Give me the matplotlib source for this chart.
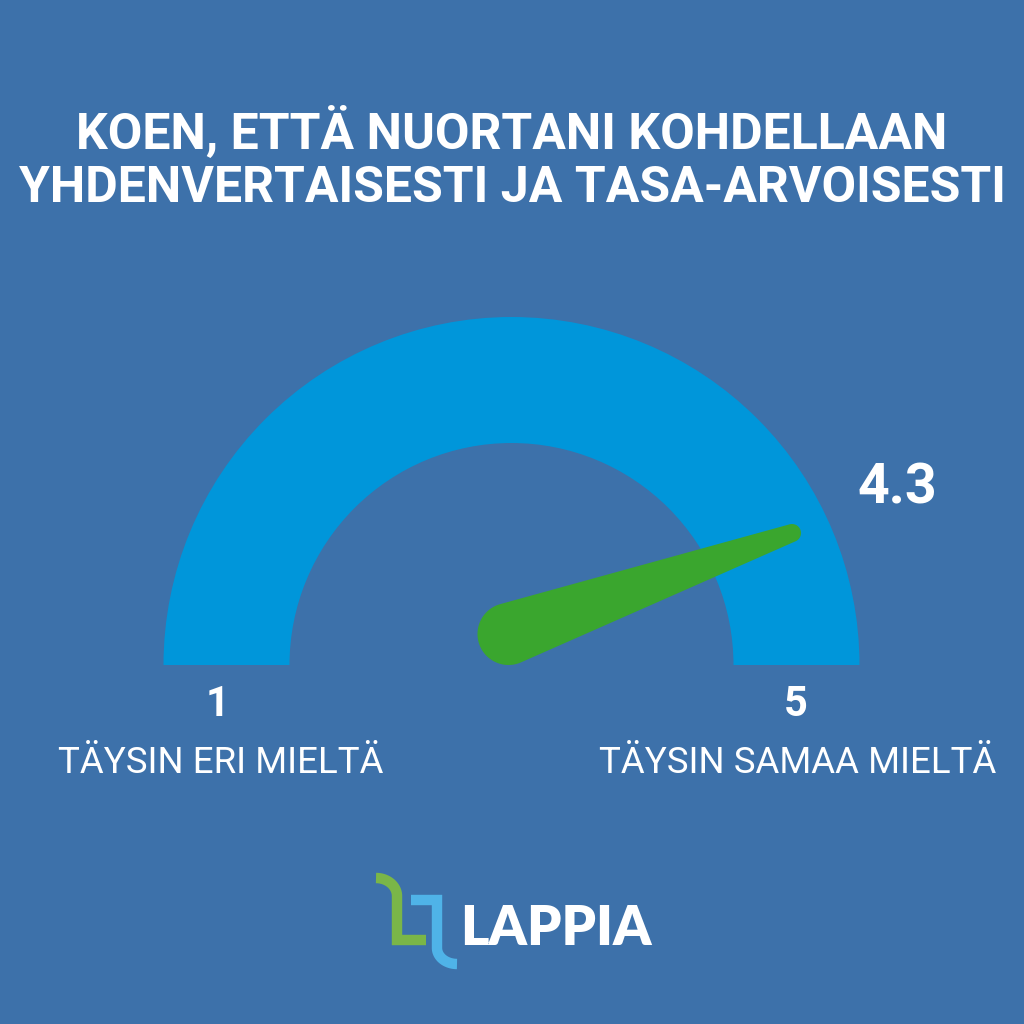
import numpy as np
import matplotlib.pyplot as plt
from matplotlib.patches import Wedge, Polygon

BG     = "#3D71AA"
ARC    = "#0096DA"
NEEDLE = "#3AA62E"

title_lines = ["KOEN, ETTÄ NUORTANI KOHDELLAAN", "YHDENVERTAISESTI JA TASA-ARVOISESTI"]
value       = 4.3
scale_min   = 1
scale_max   = 5
min_label   = "TÄYSIN ERI MIELTÄ"
max_label   = "TÄYSIN SAMAA MIELTÄ"
brand       = "LAPPIA"

plt.rcParams["font.family"] = ["Roboto", "DejaVu Sans"]

fig = plt.figure(figsize=(10.24, 10.24), dpi=100, facecolor=BG)
ax = fig.add_axes([0, 0, 1, 1])
ax.set_xlim(0, 1024)
ax.set_ylim(1024, 0)
ax.set_aspect("equal")
ax.axis("off")
ax.set_facecolor(BG)

# title
ax.text(512, 133, title_lines[0], ha="center", va="center", color="white",
        fontsize=36, fontweight="bold")
ax.text(512, 189, title_lines[1], ha="center", va="center", color="white",
        fontsize=36, fontweight="bold")

# gauge arc (y axis is flipped, so angles go clockwise -> use 180..360)
cx, cy = 511.5, 665
r_out, r_in = 348, 222
ax.add_patch(Wedge((cx, cy), r_out, 180, 360, width=r_out - r_in,
                   facecolor=ARC, edgecolor="none"))

# needle: hub circle + tip circle, joined by tangents
theta = np.pi * (1 - value / scale_max)
tip_len = 310
tip = np.array([cx + tip_len * np.cos(theta), cy - tip_len * np.sin(theta)])
hub = np.array([cx - 3, cy - 31])
r1, r2 = 31, 9
d = tip - hub
dist = np.hypot(*d)
a = np.arctan2(d[1], d[0])
phi = np.arccos((r1 - r2) / dist)
t_small = np.linspace(a - phi, a + phi, 40)
t_big = np.linspace(a + phi, a + 2 * np.pi - phi, 80)
pts = np.vstack([
    np.column_stack([tip[0] + r2 * np.cos(t_small), tip[1] + r2 * np.sin(t_small)]),
    np.column_stack([hub[0] + r1 * np.cos(t_big), hub[1] + r1 * np.sin(t_big)]),
])
ax.add_patch(Polygon(pts, closed=True, facecolor=NEEDLE, edgecolor="none"))

# value label
ax.text(897, 488, f"{value:.1f}", ha="center", va="center", color="white",
        fontsize=40, fontweight="bold")

# scale labels
ax.text(218, 705, str(scale_min), ha="center", va="center", color="white",
        fontsize=30, fontweight="bold")
ax.text(796, 705, str(scale_max), ha="center", va="center", color="white",
        fontsize=30, fontweight="bold")
ax.text(220.5, 763, min_label, ha="center", va="center", color="white", fontsize=26.4)
ax.text(797.5, 763, max_label, ha="center", va="center", color="white", fontsize=26.4)

# logo
t = np.linspace(0, 1, 30)
gx = np.concatenate([376 + 21 * np.sin(t * np.pi / 2), [397, 397, 426]])
gy = np.concatenate([878 + 18 * (1 - np.cos(t * np.pi / 2)), [896, 940, 940]])
ax.plot(gx, gy, color="#7AB648", lw=7.5, solid_capstyle="butt", solid_joinstyle="miter")
bx = np.concatenate([[411, 437, 437], 437 + 20 * (1 - np.cos(t * np.pi / 2))])
by = np.concatenate([[900, 900, 948], 948 + 16 * np.sin(t * np.pi / 2)])
ax.plot(bx, by, color="#4FB3E8", lw=7.5, solid_capstyle="butt", solid_joinstyle="miter")
ax.text(460, 929, brand, ha="left", va="center", color="white",
        fontsize=39, fontweight="heavy", family=["Lato", "DejaVu Sans"])

fig.savefig("out.png", dpi=100, facecolor=BG)
